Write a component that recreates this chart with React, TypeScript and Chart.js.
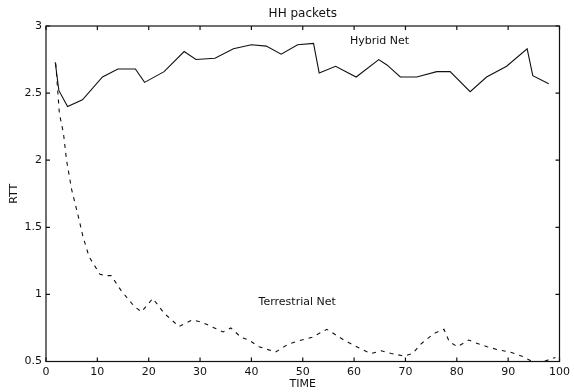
import { useEffect, useRef } from "react";
import { Chart, registerables } from "chart.js";

Chart.register(...registerables);

// ---- data ----
const hybridTime = [1.8, 2.5, 4.2, 7.1, 11.0, 14.0, 17.4, 19.2, 23.0, 26.9, 29.2, 32.9, 36.5, 40.0, 42.9, 45.8, 49.0, 52.1, 53.2, 56.4, 60.4, 64.8, 66.4, 69.0, 72.2, 76.1, 78.7, 82.6, 85.8, 89.7, 93.7, 94.8, 97.9];
const hybridRtt = [2.73, 2.52, 2.40, 2.45, 2.62, 2.68, 2.68, 2.58, 2.66, 2.81, 2.75, 2.76, 2.83, 2.86, 2.85, 2.79, 2.86, 2.87, 2.65, 2.70, 2.62, 2.75, 2.71, 2.62, 2.62, 2.66, 2.66, 2.51, 2.62, 2.70, 2.83, 2.63, 2.57];

const terrTime = [1.9, 2.6, 3.4, 4.0, 5.0, 6.3, 7.2, 8.4, 10.5, 11.7, 12.7, 14.6, 17.2, 18.6, 20.8, 23.0, 25.9, 28.5, 30.5, 32.8, 34.5, 36.0, 38.0, 39.5, 41.5, 44.7, 47.2, 49.8, 51.8, 54.7, 58.0, 60.5, 61.5, 63.3, 65.3, 67.2, 69.8, 71.4, 73.0, 75.6, 77.5, 78.5, 80.1, 82.3, 83.6, 85.9, 87.8, 90.4, 92.7, 94.7, 96.9, 99.2];
const terrRtt = [2.72, 2.35, 2.20, 2.00, 1.78, 1.58, 1.43, 1.28, 1.15, 1.14, 1.14, 1.03, 0.91, 0.87, 0.97, 0.86, 0.76, 0.81, 0.79, 0.75, 0.72, 0.75, 0.68, 0.66, 0.61, 0.57, 0.63, 0.66, 0.68, 0.74, 0.66, 0.61, 0.59, 0.56, 0.58, 0.56, 0.54, 0.56, 0.63, 0.71, 0.74, 0.65, 0.61, 0.66, 0.64, 0.61, 0.59, 0.57, 0.54, 0.50, 0.50, 0.53];

const xTicks = [0, 10, 20, 30, 40, 50, 60, 70, 80, 90, 100];
const yTicks = [0.5, 1, 1.5, 2, 2.5, 3];

const annotationTexts = ["Hybrid Net", "Terrestrial Net"];
const annotationX = [59.2, 41.4];
const annotationY = [2.89, 0.94];

const FONT = '"DejaVu Sans", "Liberation Sans", sans-serif';
const INK = "#111";

const boxPlugin = {
  id: "boxTicks",
  afterDatasetsDraw(chart: any) {
    const { ctx, chartArea, scales } = chart;
    const { left, right, top, bottom } = chartArea;
    const x = scales.x;
    const y = scales.y;
    ctx.save();
    ctx.strokeStyle = INK;
    ctx.lineWidth = 1.2;
    ctx.strokeRect(left, top, right - left, bottom - top);
    const L = 4;
    ctx.beginPath();
    for (const v of xTicks) {
      const px = x.getPixelForValue(v);
      ctx.moveTo(px, bottom);
      ctx.lineTo(px, bottom - L);
      ctx.moveTo(px, top);
      ctx.lineTo(px, top + L);
    }
    for (const v of yTicks) {
      const py = y.getPixelForValue(v);
      ctx.moveTo(left, py);
      ctx.lineTo(left + L, py);
      ctx.moveTo(right, py);
      ctx.lineTo(right - L, py);
    }
    ctx.stroke();
    ctx.fillStyle = INK;
    ctx.font = `11px ${FONT}`;
    ctx.textBaseline = "middle";
    ctx.textAlign = "left";
    annotationTexts.forEach((t, i) => {
      ctx.fillText(t, x.getPixelForValue(annotationX[i]), y.getPixelForValue(annotationY[i]));
    });
    ctx.restore();
  },
};

export default function App() {
  const ref = useRef<HTMLCanvasElement | null>(null);

  useEffect(() => {
    document.body.style.margin = "0";
    if (!ref.current) return;
    const chart = new Chart(ref.current, {
      type: "line",
      data: {
        datasets: [
          {
            label: "Hybrid Net",
            data: hybridTime.map((t, i) => ({ x: t, y: hybridRtt[i] })),
            borderColor: INK,
            borderWidth: 1.1,
            pointRadius: 0,
            tension: 0,
            fill: false,
          },
          {
            label: "Terrestrial Net",
            data: terrTime.map((t, i) => ({ x: t, y: terrRtt[i] })),
            borderColor: INK,
            borderWidth: 1.1,
            borderDash: [4, 5],
            pointRadius: 0,
            tension: 0,
            fill: false,
          },
        ],
      },
      options: {
        animation: false,
        responsive: false,
        layout: { padding: { left: 0, right: 10.5, top: 0, bottom: 0 } },
        plugins: {
          legend: { display: false },
          tooltip: { enabled: false },
          title: {
            display: true,
            text: "HH packets",
            fullSize: false,
            color: INK,
            font: { family: FONT, size: 12, weight: "normal" },
            padding: { top: 7, bottom: 4.6 },
          },
        },
        scales: {
          x: {
            type: "linear",
            min: 0,
            max: 100,
            afterFit: (s: any) => {
              s.height = 30.5;
            },
            grid: { display: false, drawTicks: false },
            border: { display: false },
            ticks: {
              stepSize: 10,
              color: INK,
              font: { family: FONT, size: 11 },
              padding: 4,
              maxRotation: 0,
              callback: (v: any) => String(v),
            },
            title: {
              display: true,
              text: "TIME",
              color: INK,
              font: { family: FONT, size: 11 },
              padding: { top: 0, bottom: 1 },
            },
          },
          y: {
            type: "linear",
            min: 0.5,
            max: 3,
            afterFit: (s: any) => {
              s.width = 46;
            },
            grid: { display: false, drawTicks: false },
            border: { display: false },
            ticks: {
              stepSize: 0.5,
              color: INK,
              font: { family: FONT, size: 11 },
              padding: 4,
              callback: (v: any) => String(v),
            },
            title: {
              display: true,
              text: "RTT",
              color: INK,
              font: { family: FONT, size: 11 },
              padding: { top: 8, bottom: 0 },
            },
          },
        },
      },
      plugins: [boxPlugin],
    });
    return () => chart.destroy();
  }, []);

  return (
    <div style={{ width: 574, height: 392 }}>
      <canvas ref={ref} width={574} height={392} />
    </div>
  );
}
